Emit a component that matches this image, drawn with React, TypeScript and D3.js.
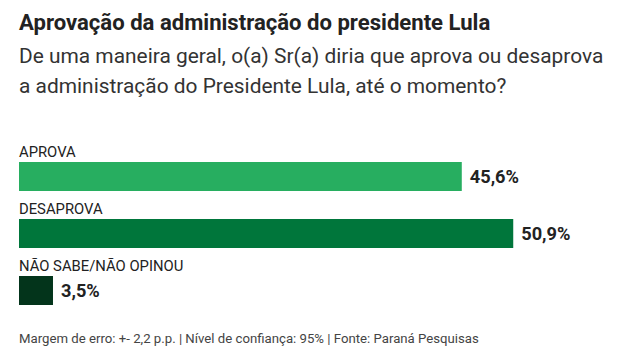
import React, { useEffect, useRef } from "react";
import * as d3 from "d3";

const categories = ["APROVA", "DESAPROVA", "NÃO SABE/NÃO OPINOU"];
const values = [45.6, 50.9, 3.5];
const valueLabels = ["45,6%", "50,9%", "3,5%"];
const colors = ["#27ae60", "#00763b", "#03341b"];

const title = "Aprovação da administração do presidente Lula";
const subtitleLines = [
  "De uma maneira geral, o(a) Sr(a) diria que aprova ou desaprova",
  "a administração do Presidente Lula, até o momento?",
];
const footer = "Margem de erro: +- 2,2 p.p. | Nível de confiança: 95% | Fonte: Paraná Pesquisas";

const W = 642;
const H = 361;
const FONT = "Roboto, 'Noto Sans', sans-serif";

export default function App() {
  const ref = useRef<SVGSVGElement | null>(null);

  useEffect(() => {
    const svg = d3.select(ref.current);
    svg.selectAll("*").remove();

    const left = 19;
    svg
      .append("text")
      .attr("x", left)
      .attr("y", 30)
      .attr("font-family", FONT)
      .attr("font-weight", 700)
      .attr("font-size", 22.1)
      .attr("fill", "#222")
      .text(title);

    subtitleLines.forEach((l, i) => {
      svg
        .append("text")
        .attr("x", left)
        .attr("y", 63 + i * 30)
        .attr("font-family", FONT)
        .attr("font-size", 20.9)
        .attr("fill", "#333")
        .text(l);
    });

    const x = d3.scaleLinear().domain([0, 100]).range([0, 971]);
    const y = d3
      .scaleBand<string>()
      .domain(categories)
      .range([162, 162 + 57 * 3])
      .paddingInner(0)
      .paddingOuter(0);
    const barH = 29;

    const g = svg.append("g");
    categories.forEach((c, i) => {
      const y0 = y(c)!;
      g.append("text")
        .attr("x", left)
        .attr("y", y0 - 5)
        .attr("font-family", FONT)
        .attr("font-size", 14.8)
        .attr("fill", "#222")
        .text(c);
      g.append("rect")
        .attr("x", left)
        .attr("y", y0)
        .attr("width", x(values[i]))
        .attr("height", barH)
        .attr("fill", colors[i]);
      g.append("text")
        .attr("x", left + x(values[i]) + 8)
        .attr("y", y0 + 21)
        .attr("font-family", FONT)
        .attr("font-weight", 700)
        .attr("font-size", 18.2)
        .attr("fill", "#222")
        .text(valueLabels[i]);
    });

    svg
      .append("text")
      .attr("x", left)
      .attr("y", 343)
      .attr("font-family", FONT)
      .attr("font-size", 13.2)
      .attr("fill", "#444")
      .text(footer);
  }, []);

  return (
    <svg
      ref={ref}
      width={W}
      height={H}
      style={{ position: "absolute", left: 0, top: 0, background: "#fff" }}
    />
  );
}
